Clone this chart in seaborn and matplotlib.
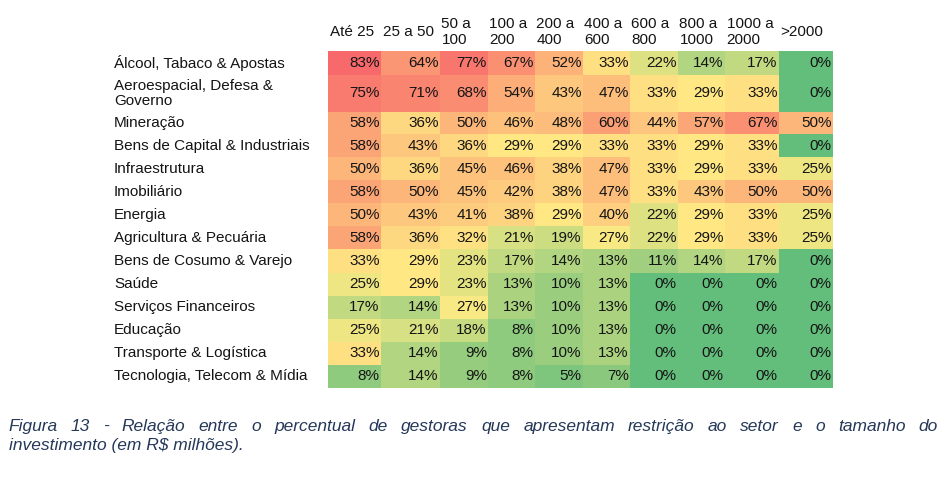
import numpy as np
import pandas as pd
import seaborn as sns
import matplotlib.pyplot as plt
from matplotlib.colors import LinearSegmentedColormap, TwoSlopeNorm

sns.set_style("white")
plt.rcParams["font.family"] = ["Liberation Sans", "DejaVu Sans"]

sectors = ["Álcool, Tabaco & Apostas", "Aeroespacial, Defesa &\nGoverno", "Mineração",
           "Bens de Capital & Industriais", "Infraestrutura", "Imobiliário", "Energia",
           "Agricultura & Pecuária", "Bens de Cosumo & Varejo", "Saúde", "Serviços Financeiros",
           "Educação", "Transporte & Logística", "Tecnologia, Telecom & Mídia"]
sizes = ["Até 25", "25 a 50", "50 a\n100", "100 a\n200", "200 a\n400", "400 a\n600",
         "600 a\n800", "800 a\n1000", "1000 a\n2000", ">2000"]

# % of managers with restriction to the sector, per investment size (R$ mi)
ate_25 = [83, 75, 58, 58, 50, 58, 50, 58, 33, 25, 17, 25, 33, 8]
de_25_a_50 = [64, 71, 36, 43, 36, 50, 43, 36, 29, 29, 14, 21, 14, 14]
de_50_a_100 = [77, 68, 50, 36, 45, 45, 41, 32, 23, 23, 27, 18, 9, 9]
de_100_a_200 = [67, 54, 46, 29, 46, 42, 38, 21, 17, 13, 13, 8, 8, 8]
de_200_a_400 = [52, 43, 48, 29, 38, 38, 29, 19, 14, 10, 10, 10, 10, 5]
de_400_a_600 = [33, 47, 60, 33, 47, 47, 40, 27, 13, 13, 13, 13, 13, 7]
de_600_a_800 = [22, 33, 44, 33, 33, 33, 22, 22, 11, 0, 0, 0, 0, 0]
de_800_a_1000 = [14, 29, 57, 29, 29, 43, 29, 29, 14, 0, 0, 0, 0, 0]
de_1000_a_2000 = [17, 33, 67, 33, 33, 50, 33, 33, 17, 0, 0, 0, 0, 0]
acima_2000 = [0, 0, 50, 0, 25, 50, 25, 25, 0, 0, 0, 0, 0, 0]

columns = [ate_25, de_25_a_50, de_50_a_100, de_100_a_200, de_200_a_400,
           de_400_a_600, de_600_a_800, de_800_a_1000, de_1000_a_2000, acima_2000]
df = pd.DataFrame({s: np.array(c) / 100 for s, c in zip(sizes, columns)}, index=sectors)

# excel-like 3 colour scale: min green, median yellow, max red
cmap = LinearSegmentedColormap.from_list("excel", ["#63BE7B", "#FFEB84", "#F8696B"])
norm = TwoSlopeNorm(vmin=df.values.min(), vcenter=np.median(df.values), vmax=df.values.max())

# spreadsheet-like cell sizes (pixels): columns and rows are not all the same size
col_px = np.array([0, 53, 112, 160, 207, 255, 302, 350, 397, 451, 505])
row_px = np.concatenate([[0, 24.3, 61, 83.3], 83.3 + 23.09 * np.arange(1, 12)])
col_idx = np.arange(len(col_px), dtype=float)
row_idx = np.arange(len(row_px), dtype=float)

fig = plt.figure(figsize=(9.5, 4.78), dpi=100)
ax = fig.add_axes([328 / 950, 1 - 388 / 478, 505 / 950, 337.3 / 478])
ax.set_xscale("function", functions=(lambda v: np.interp(v, col_idx, col_px),
                                     lambda v: np.interp(v, col_px, col_idx)))
ax.set_yscale("function", functions=(lambda v: np.interp(v, row_idx, row_px),
                                     lambda v: np.interp(v, row_px, row_idx)))

sns.heatmap(df, ax=ax, cmap=cmap, norm=norm, cbar=False, annot=True, fmt=".0%",
            linewidths=0, annot_kws={"color": "#141414", "fontsize": 11})

# values sit at the right side of each cell
for t in ax.texts:
    x, y = t.get_position()
    t.set_position((x + 0.475, y))
    t.set_ha("right")

ax.set_yticks(np.arange(len(sectors)) + 0.5)
ax.set_yticklabels(sectors, rotation=0, ha="left", va="center",
                   fontsize=11, color="#141414", linespacing=1.12)
ax.tick_params(axis="y", length=0, pad=154)

ax.xaxis.tick_top()
ax.set_xticks(np.arange(len(sizes)) + 0.03)
ax.set_xticklabels(sizes, rotation=0, ha="left", va="center",
                   fontsize=11, color="#141414", linespacing=1.15)
ax.tick_params(axis="x", length=0, pad=13.5)
ax.set_xlabel("")
ax.set_ylabel("")

# justified caption, first line spread between the margins
cap_color = "#253858"
cap_size = 12.5
caption_1 = "Figura 13 - Relação entre o percentual de gestoras que apresentam restrição ao setor e o tamanho do"
caption_2 = "investimento (em R$ milhões)."
renderer = fig.canvas.get_renderer()
words = caption_1.split()
texts = [fig.text(0, 1 - 431 / 478, w, fontsize=cap_size, style="italic", color=cap_color,
                  ha="left", va="baseline", parse_math=False) for w in words]
widths = [t.get_window_extent(renderer).width for t in texts]
gap = (938 - 8 - sum(widths)) / (len(words) - 1)
x = 8
for t, w in zip(texts, widths):
    t.set_x(x / 950)
    x += w + gap
fig.text(9 / 950, 1 - 450 / 478, caption_2, fontsize=cap_size, style="italic", color=cap_color,
         ha="left", va="baseline", parse_math=False)

fig.savefig("out.png", dpi=100)
